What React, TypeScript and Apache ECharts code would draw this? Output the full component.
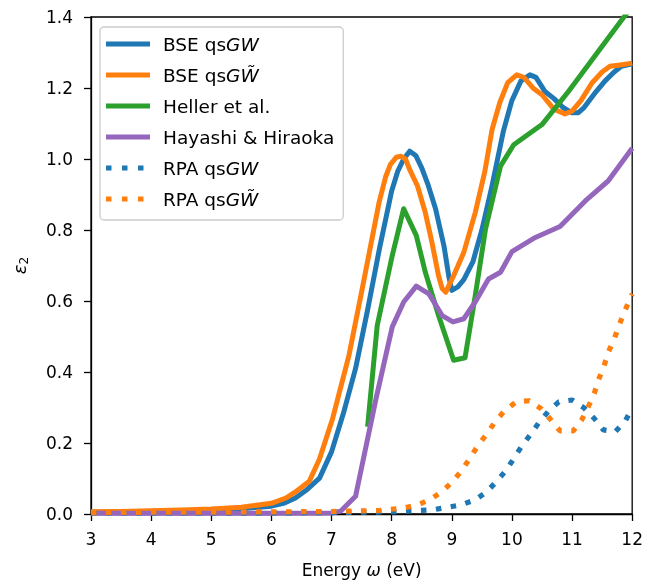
import React, { useEffect, useRef } from "react";
import * as echarts from "echarts";

// ---------- data ----------
const bseGWx = [3, 3.5, 4, 4.5, 5, 5.5, 6, 6.2, 6.4, 6.6, 6.8, 7.0, 7.2, 7.4, 7.6, 7.8, 8.0, 8.1, 8.2, 8.3, 8.4, 8.5, 8.6, 8.73, 8.87, 8.95, 9.0, 9.1, 9.2, 9.35, 9.5, 9.67, 9.86, 10.0, 10.15, 10.3, 10.4, 10.55, 10.7, 10.85, 11.0, 11.1, 11.2, 11.4, 11.55, 11.7, 11.82, 12];
const bseGWy = [0.005, 0.006, 0.007, 0.009, 0.011, 0.015, 0.022, 0.03, 0.045, 0.07, 0.101, 0.175, 0.285, 0.41, 0.575, 0.75, 0.91, 0.965, 1.0, 1.022, 1.01, 0.975, 0.93, 0.86, 0.755, 0.67, 0.63, 0.64, 0.66, 0.71, 0.8, 0.925, 1.08, 1.165, 1.22, 1.237, 1.23, 1.19, 1.17, 1.145, 1.13, 1.13, 1.145, 1.19, 1.22, 1.245, 1.261, 1.268];

const bseGWtx = [3, 3.5, 4, 4.5, 5, 5.5, 6, 6.24, 6.4, 6.63, 6.8, 7.02, 7.29, 7.51, 7.79, 7.9, 7.98, 8.08, 8.15, 8.23, 8.3, 8.43, 8.56, 8.67, 8.78, 8.84, 8.9, 9.03, 9.2, 9.39, 9.55, 9.67, 9.8, 9.93, 10.08, 10.2, 10.35, 10.5, 10.7, 10.88, 11.0, 11.15, 11.33, 11.5, 11.63, 11.8, 12];
const bseGWty = [0.006, 0.007, 0.009, 0.011, 0.014, 0.019, 0.03, 0.045, 0.062, 0.092, 0.155, 0.27, 0.447, 0.634, 0.877, 0.95, 0.985, 1.005, 1.008, 1.0, 0.97, 0.924, 0.849, 0.765, 0.671, 0.635, 0.625, 0.671, 0.737, 0.849, 0.965, 1.083, 1.16, 1.215, 1.237, 1.23, 1.2, 1.181, 1.14, 1.127, 1.135, 1.165, 1.214, 1.245, 1.261, 1.265, 1.27];

const hellerX = [7.6, 7.76, 8.01, 8.2, 8.41, 8.56, 8.78, 9.03, 9.22, 9.39, 9.56, 9.81, 10.03, 10.5, 10.94, 11.85, 12];
const hellerY = [0.246, 0.531, 0.728, 0.86, 0.784, 0.681, 0.559, 0.433, 0.44, 0.615, 0.802, 0.98, 1.04, 1.097, 1.19, 1.397, 1.43];

const hayashiX = [3, 4, 5, 6, 7.0, 7.15, 7.4, 7.74, 8.01, 8.2, 8.41, 8.62, 8.84, 9.02, 9.2, 9.4, 9.61, 9.81, 10.0, 10.39, 10.8, 11.22, 11.6, 12];
const hayashiY = [0.002, 0.002, 0.002, 0.002, 0.003, 0.008, 0.05, 0.325, 0.527, 0.597, 0.642, 0.62, 0.559, 0.541, 0.55, 0.6, 0.662, 0.681, 0.739, 0.779, 0.81, 0.882, 0.938, 1.03];

const rpaGWx = [3, 4, 5, 6, 7, 8, 8.2, 8.44, 8.69, 8.93, 9.16, 9.39, 9.59, 9.75, 9.91, 10.04, 10.17, 10.31, 10.45, 10.61, 10.78, 11.0, 11.2, 11.37, 11.52, 11.72, 11.89, 12];
const rpaGWy = [0.003, 0.003, 0.003, 0.003, 0.004, 0.006, 0.008, 0.01, 0.012, 0.019, 0.026, 0.04, 0.064, 0.093, 0.124, 0.159, 0.193, 0.224, 0.258, 0.29, 0.316, 0.321, 0.299, 0.269, 0.237, 0.232, 0.263, 0.3];

const rpaGWtx = [3, 4, 5, 6, 7, 7.8, 8.2, 8.44, 8.66, 8.85, 9.03, 9.18, 9.31, 9.44, 9.59, 9.72, 9.88, 10.07, 10.29, 10.49, 10.65, 10.8, 11.02, 11.16, 11.27, 11.37, 11.44, 11.53, 11.6, 11.7, 11.78, 11.87, 12];
const rpaGWty = [0.004, 0.005, 0.005, 0.006, 0.007, 0.01, 0.017, 0.026, 0.043, 0.065, 0.094, 0.126, 0.16, 0.194, 0.227, 0.26, 0.291, 0.316, 0.319, 0.296, 0.265, 0.234, 0.234, 0.265, 0.302, 0.34, 0.378, 0.416, 0.455, 0.492, 0.531, 0.569, 0.62];

const seriesNames = ["bseGW", "bseGWt", "heller", "hayashi", "rpaGW", "rpaGWt"];
const legendLabels = [
  "BSE qs{it|GW}",
  "BSE qs{it|GW\u0303}",
  "Heller et al.",
  "Hayashi & Hiraoka",
  "RPA qs{it|GW}",
  "RPA qs{it|GW\u0303}",
];
const legendDotted = [false, false, false, false, true, true];

const xMin = 3, xMax = 12, xInterval = 1;
const yMin = 0, yMax = 1.4, yInterval = 0.2;

const BLUE = "#1f77b4";
const ORANGE = "#ff7f0e";
const GREEN = "#2ca02c";
const PURPLE = "#9467bd";
const FONT = "DejaVu Sans";

const SOLID_ICON = "path://M0,0H44V5H0Z";
const DOT_ICON = "path://M0,0H5.5V5H0Z M16,0H21.5V5H16Z M32,0H37.5V5H32Z M44,2.5L44,2.5";

const zip = (xs: number[], ys: number[]) => xs.map((x, i) => [x, ys[i]]);

export default function App() {
  const ref = useRef<HTMLDivElement>(null);
  useEffect(() => {
    if (!ref.current) return;
    const chart = echarts.init(ref.current, undefined, { renderer: "svg" });
    const solid = (name: string, color: string, xs: number[], ys: number[]) => ({
      name,
      type: "line",
      data: zip(xs, ys),
      showSymbol: false,
      symbol: "none",
      clip: true,
      lineStyle: { color, width: 5, cap: "butt", join: "round" },
      itemStyle: { color },
      emphasis: { disabled: true },
    });
    const dotted = (name: string, color: string, xs: number[], ys: number[]) => ({
      name,
      type: "line",
      data: zip(xs, ys),
      showSymbol: false,
      symbol: "none",
      clip: true,
      lineStyle: { color, width: 5.2, type: [5.5, 9.5], cap: "butt" },
      itemStyle: { color },
      emphasis: { disabled: true },
    });
    const labelMap: Record<string, string> = {};
    seriesNames.forEach((n, i) => (labelMap[n] = legendLabels[i]));

    chart.setOption({
      animation: false,
      textStyle: { fontFamily: FONT },
      grid: {
        left: 91,
        right: 12,
        top: 17,
        bottom: 67,
        show: true,
        borderColor: "#000",
        borderWidth: 1.3,
        backgroundColor: "transparent",
      },
      legend: {
        left: 100,
        top: 27,
        orient: "vertical",
        data: seriesNames.map((n, i) => ({ name: n, icon: legendDotted[i] ? DOT_ICON : SOLID_ICON })),
        itemWidth: 44,
        itemHeight: 5,
        itemGap: 5,
        padding: [4, 9, 8, 6],
        backgroundColor: "rgba(255,255,255,0.8)",
        borderColor: "#cccccc",
        borderWidth: 1.3,
        borderRadius: 4,
        selectedMode: false,
        formatter: (n: string) => labelMap[n],
        textStyle: {
          fontFamily: FONT,
          fontSize: 18.5,
          color: "#000",
          lineHeight: 26,
          padding: [0, 0, 0, 8],
          rich: {
            it: { fontFamily: FONT, fontSize: 18.5, fontStyle: "italic", color: "#000", lineHeight: 26 },
          },
        },
      },
      xAxis: {
        type: "value",
        min: xMin,
        max: xMax,
        interval: xInterval,
        name: "Energy {w|ω} (eV)",
        nameLocation: "middle",
        nameGap: 47,
        nameTextStyle: {
          fontFamily: FONT,
          fontSize: 17,
          color: "#000",
          rich: { w: { fontFamily: FONT, fontSize: 17, fontStyle: "italic", color: "#000" } },
        },
        axisLine: { show: true, onZero: false, lineStyle: { color: "#000", width: 1.3 } },
        axisTick: { show: true, inside: false, length: 7, lineStyle: { color: "#000", width: 1.3 } },
        axisLabel: { fontFamily: FONT, fontSize: 17, color: "#000", margin: 16 },
        splitLine: { show: false },
      },
      yAxis: {
        type: "value",
        min: yMin,
        max: yMax,
        interval: yInterval,
        name: "{e|ε}{s|2}",
        nameLocation: "middle",
        nameGap: 61,
        nameRotate: 90,
        nameTextStyle: {
          fontFamily: FONT,
          color: "#000",
          rich: {
            e: { fontFamily: FONT, fontSize: 18, fontStyle: "italic", color: "#000", lineHeight: 22, verticalAlign: "middle" },
            s: { fontFamily: FONT, fontSize: 12, color: "#000", lineHeight: 22, verticalAlign: "bottom" },
          },
        },
        axisLine: { show: true, onZero: false, lineStyle: { color: "#000", width: 1.3 } },
        axisTick: { show: true, inside: false, length: 7, lineStyle: { color: "#000", width: 1.3 } },
        axisLabel: {
          fontFamily: FONT,
          fontSize: 17,
          color: "#000",
          margin: 18,
          formatter: (v: number) => v.toFixed(1),
        },
        splitLine: { show: false },
      },
      series: [
        solid("bseGW", BLUE, bseGWx, bseGWy),
        solid("bseGWt", ORANGE, bseGWtx, bseGWty),
        solid("heller", GREEN, hellerX, hellerY),
        solid("hayashi", PURPLE, hayashiX, hayashiY),
        dotted("rpaGW", BLUE, rpaGWx, rpaGWy),
        dotted("rpaGWt", ORANGE, rpaGWtx, rpaGWty),
      ],
    });
    return () => chart.dispose();
  }, []);
  return (
    <div
      ref={ref}
      style={{ position: "fixed", left: 0, top: 0, width: 646, height: 583 }}
    />
  );
}
